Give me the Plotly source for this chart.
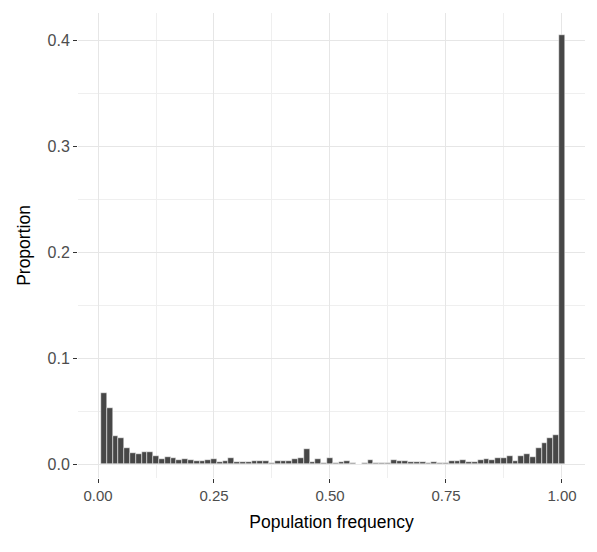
import plotly.graph_objects as go

# Histogram of population frequency: 80 bins of width 0.0125, centred at k/80
bin_centers = [k / 80 for k in range(1, 81)]
proportions = [
    0.067, 0.053, 0.026, 0.025, 0.015, 0.010, 0.009, 0.011, 0.011, 0.008,
    0.005, 0.007, 0.006, 0.004, 0.005, 0.004, 0.003, 0.003, 0.004, 0.005,
    0.0015, 0.003, 0.0055, 0.002, 0.002, 0.002, 0.0025, 0.003, 0.003, 0.0012,
    0.0025, 0.0025, 0.003, 0.0044, 0.0057, 0.014, 0.002, 0.0044, 0.0006, 0.0057,
    0.0013, 0.002, 0.0025, 0.0013, 0.0003, 0.0006, 0.0035, 0.0013, 0.0013, 0.0013,
    0.004, 0.0025, 0.003, 0.002, 0.0023, 0.002, 0.0013, 0.002, 0.0013, 0.0013,
    0.003, 0.003, 0.004, 0.0023, 0.002, 0.004, 0.0047, 0.0035, 0.0057, 0.0057,
    0.0075, 0.0025, 0.0072, 0.009, 0.007, 0.015, 0.020, 0.025, 0.027, 0.405,
]
x_ticks = [0.0, 0.25, 0.5, 0.75, 1.0]
x_tick_labels = ["0.00", "0.25", "0.50", "0.75", "1.00"]
y_ticks = [0.0, 0.1, 0.2, 0.3, 0.4]
y_tick_labels = ["0.0", "0.1", "0.2", "0.3", "0.4"]

fig = go.Figure(
    go.Bar(
        x=bin_centers,
        y=proportions,
        width=1 / 80,
        marker=dict(color="#474747", line=dict(color="white", width=0.5)),
    )
)

grid = "#E6E6E6"
fig.update_layout(
    width=597,
    height=552,
    margin=dict(l=78, r=12, t=13, b=74),
    plot_bgcolor="white",
    paper_bgcolor="white",
    showlegend=False,
    bargap=0,
    font=dict(family="Liberation Sans, Arial, sans-serif"),
)
fig.update_xaxes(
    range=[-0.0431, 1.0496],
    tickvals=x_ticks,
    ticktext=x_tick_labels,
    ticks="outside",
    ticklen=4,
    tickwidth=1.2,
    tickcolor="#333333",
    tickfont=dict(size=15, color="#4D4D4D"),
    showgrid=True,
    gridcolor=grid,
    gridwidth=1.2,
    minor=dict(tickvals=[0.125, 0.375, 0.625, 0.875], showgrid=True,
               gridcolor="#EFEFEF", gridwidth=0.8, ticks=""),
    zeroline=False,
    showline=False,
    title=dict(text="Population frequency", font=dict(size=17.5, color="black"), standoff=12),
)
fig.update_yaxes(
    range=[-0.0132, 0.4255],
    tickvals=y_ticks,
    ticktext=y_tick_labels,
    ticks="outside",
    ticklen=4,
    tickwidth=1.2,
    tickcolor="#333333",
    tickfont=dict(size=16, color="#4D4D4D"),
    showgrid=True,
    gridcolor=grid,
    gridwidth=1.2,
    minor=dict(tickvals=[0.05, 0.15, 0.25, 0.35], showgrid=True,
               gridcolor="#EFEFEF", gridwidth=0.8, ticks=""),
    zeroline=False,
    showline=False,
    title=dict(text="Proportion", font=dict(size=17.5, color="black"), standoff=12),
)

fig.write_html("out.html")
